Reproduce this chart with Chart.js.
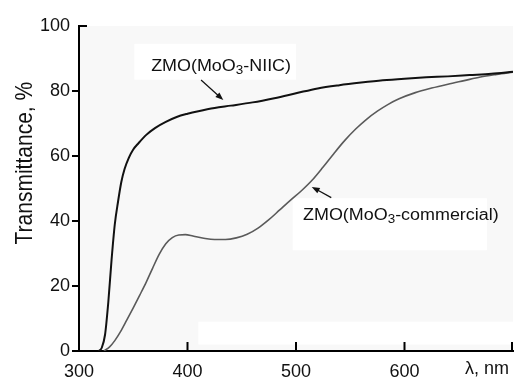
<!DOCTYPE html>
<html>
<head>
<meta charset="utf-8">
<script src="https://cdn.jsdelivr.net/npm/chart.js@4/dist/chart.umd.min.js"></script>
<style>
  html, body { margin: 0; padding: 0; background: #ffffff; }
  #wrap { width: 523px; height: 379px; position: relative; }
</style>
</head>
<body>
<div id="wrap"><canvas id="c"></canvas></div>
<script>
// ---- data ----
const niicWavelength = [318,321,324,327,330,333,336,339,342,346,350,355,362,370,380,390,400,410,425,440,460,480,500,520,540,560,580,600,620,640,660,680,700];
const niicTransmittance = [0,1,5,15,28,39,46,52,56,59.5,62,64,66.5,68.6,70.5,72,73,73.8,74.8,75.5,76.5,77.8,79.3,80.8,81.8,82.6,83.3,83.8,84.2,84.5,84.9,85.3,85.9];

const comWavelength = [323,328,333,338,344,350,356,362,368,374,380,386,392,398,405,415,425,435,445,455,465,475,485,495,505,515,525,535,545,555,565,575,585,595,610,625,640,655,670,685,700];
const comTransmittance = [0,1.2,3.2,5.8,9.5,13.3,17.2,21.2,25.6,29.8,33,34.9,35.7,35.8,35.4,34.7,34.3,34.3,34.8,35.9,37.8,40.4,43.4,46.4,49.3,52.6,56.6,60.8,64.8,68.3,71.3,73.8,75.9,77.6,79.5,80.9,82.1,83.2,84.3,85.1,85.8];

const xTickValues = [300,400,500,600,700];
const xTickLabels = ['300','400','500','600',''];
const yTickValues = [0,20,40,60,80,100];

const xAxisTitle = 'λ, nm';
const yAxisTitle = 'Transmittance, %';

// annotation labels (anchored in data coordinates)
const labelNiic = { pre: 'ZMO(MoO', sub: '3', post: '-NIIC)', x: 366.5, y: 87.4 };
const labelCom  = { pre: 'ZMO(MoO', sub: '3', post: '-commercial)', x: 506.5, y: 41.6 };
const arrowNiic = { fromX: 412.5, fromY: 83.4, toX: 433, toY: 77.2 };
const arrowCom  = { fromX: 532.5, fromY: 47.2, toX: 514.5, toY: 50.5 };

const FONT = '"Liberation Sans", Arial, Helvetica, sans-serif';

function toPts(xs, ys) { return xs.map((x, i) => ({ x: x, y: ys[i] })); }

const decor = {
  id: 'decor',
  beforeDraw(chart) {
    const { ctx, chartArea: a, scales: { x, y } } = chart;
    ctx.save();
    ctx.fillStyle = '#f8f8f8';
    ctx.fillRect(a.left, a.top, a.right - a.left, a.bottom - a.top);
    // light patches behind the annotation labels
    ctx.fillStyle = '#ffffff';
    ctx.fillRect(x.getPixelForValue(351), y.getPixelForValue(94.5), x.getPixelForValue(500) - x.getPixelForValue(351), y.getPixelForValue(83.5) - y.getPixelForValue(94.5));
    ctx.fillRect(x.getPixelForValue(497), y.getPixelForValue(47), x.getPixelForValue(676) - x.getPixelForValue(497), y.getPixelForValue(31) - y.getPixelForValue(47));
    ctx.fillRect(x.getPixelForValue(410), y.getPixelForValue(9), x.getPixelForValue(700) - x.getPixelForValue(410), y.getPixelForValue(2) - y.getPixelForValue(9));
    ctx.restore();
  },
  afterDraw(chart) {
    const { ctx, chartArea: a, scales: { x, y } } = chart;
    ctx.save();
    // inward ticks on the x axis
    ctx.strokeStyle = '#000';
    ctx.lineWidth = 2;
    ctx.beginPath();
    xTickValues.forEach(v => {
      if (v === xTickValues[0]) return;
      const px = Math.min(x.getPixelForValue(v), a.right - 1);
      ctx.moveTo(px, a.bottom);
      ctx.lineTo(px, a.bottom - 9);
    });
    // inward tick at the top of the y axis
    const py100 = y.getPixelForValue(yTickValues[yTickValues.length - 1]);
    ctx.moveTo(a.left - 1, py100);
    ctx.lineTo(a.left + 8, py100);
    ctx.stroke();

    // annotation labels
    function label(l) {
      const px = x.getPixelForValue(l.x), py = y.getPixelForValue(l.y);
      ctx.save();
      ctx.translate(px, py);
      ctx.scale(1.12, 1);
      ctx.fillStyle = '#111';
      ctx.textBaseline = 'middle';
      ctx.textAlign = 'left';
      ctx.font = '16px ' + FONT;
      ctx.fillText(l.pre, 0, 0);
      let w = ctx.measureText(l.pre).width;
      ctx.font = '12px ' + FONT;
      ctx.fillText(l.sub, w, 4);
      w += ctx.measureText(l.sub).width;
      ctx.font = '16px ' + FONT;
      ctx.fillText(l.post, w, 0);
      ctx.restore();
    }
    label(labelNiic);
    label(labelCom);

    function arrow(ar) {
      const x1 = x.getPixelForValue(ar.fromX), y1 = y.getPixelForValue(ar.fromY);
      const x2 = x.getPixelForValue(ar.toX), y2 = y.getPixelForValue(ar.toY);
      const ang = Math.atan2(y2 - y1, x2 - x1);
      ctx.strokeStyle = '#111';
      ctx.fillStyle = '#111';
      ctx.lineWidth = 1.2;
      ctx.beginPath();
      ctx.moveTo(x1, y1);
      ctx.lineTo(x2 - 5 * Math.cos(ang), y2 - 5 * Math.sin(ang));
      ctx.stroke();
      ctx.beginPath();
      ctx.moveTo(x2, y2);
      ctx.lineTo(x2 - 8 * Math.cos(ang) + 3 * Math.sin(ang), y2 - 8 * Math.sin(ang) - 3 * Math.cos(ang));
      ctx.lineTo(x2 - 8 * Math.cos(ang) - 3 * Math.sin(ang), y2 - 8 * Math.sin(ang) + 3 * Math.cos(ang));
      ctx.closePath();
      ctx.fill();
    }
    arrow(arrowNiic);
    arrow(arrowCom);

    // y axis title
    ctx.save();
    ctx.translate(32, y.getPixelForValue(57.8));
    ctx.rotate(-Math.PI / 2);
    ctx.scale(1, 1.1);
    ctx.fillStyle = '#111';
    ctx.font = '21px ' + FONT;
    ctx.textAlign = 'center';
    ctx.textBaseline = 'alphabetic';
    ctx.fillText(yAxisTitle, 0, 0);
    ctx.restore();

    // x axis title in place of the last tick label
    ctx.fillStyle = '#111';
    ctx.font = '18px ' + FONT;
    ctx.textAlign = 'left';
    ctx.textBaseline = 'middle';
    ctx.fillText(xAxisTitle, a.right - 48, 369);
    ctx.restore();
  }
};

new Chart(document.getElementById('c'), {
  type: 'line',
  data: {
    datasets: [
      {
        label: 'ZMO(MoO3-NIIC)',
        data: toPts(niicWavelength, niicTransmittance),
        borderColor: '#111111',
        borderWidth: 2,
        pointRadius: 0,
        cubicInterpolationMode: 'monotone',
        fill: false
      },
      {
        label: 'ZMO(MoO3-commercial)',
        data: toPts(comWavelength, comTransmittance),
        borderColor: '#5a5a5a',
        borderWidth: 1.6,
        pointRadius: 0,
        cubicInterpolationMode: 'monotone',
        fill: false
      }
    ]
  },
  options: {
    responsive: true,
    maintainAspectRatio: false,
    animation: false,
    devicePixelRatio: 1,
    layout: { padding: { top: 26, right: 0, left: 0, bottom: 0 } },
    plugins: { legend: { display: false }, tooltip: { enabled: false } },
    scales: {
      x: {
        type: 'linear',
        min: 300,
        max: 700,
        afterBuildTicks: s => { s.ticks = xTickValues.map(v => ({ value: v })); },
        afterFit: s => { s.height = 28; },
        border: { color: '#000', width: 2 },
        grid: { drawOnChartArea: false, drawTicks: false },
        ticks: {
          padding: 10,
          color: '#111',
          font: { family: FONT, size: 18 },
          maxRotation: 0,
          callback: (v) => { const i = xTickValues.indexOf(v); return i >= 0 ? xTickLabels[i] : ''; }
        }
      },
      y: {
        type: 'linear',
        min: 0,
        max: 100,
        afterBuildTicks: s => { s.ticks = yTickValues.map(v => ({ value: v })); },
        afterFit: s => { s.width = 79; },
        border: { color: '#000', width: 2 },
        grid: {
          drawOnChartArea: false,
          drawTicks: true,
          tickLength: 7,
          lineWidth: 2,
          color: ctx => (ctx.tick && ctx.tick.value === 100) ? 'rgba(0,0,0,0)' : '#000'
        },
        ticks: {
          padding: 2,
          color: '#111',
          font: { family: FONT, size: 18 }
        }
      }
    }
  },
  plugins: [decor]
});
</script>
</body>
</html>
